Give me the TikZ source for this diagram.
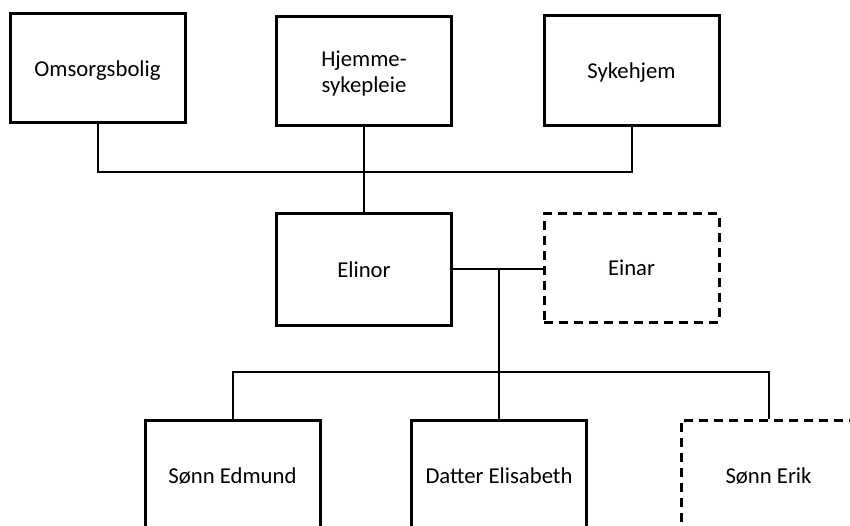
\documentclass[tikz,border=0pt]{standalone}
\usepackage{fontspec}
\setmainfont{Carlito}
\begin{document}
\begin{tikzpicture}[x=1pt,y=-1pt,
  box/.style={draw, line width=3pt, minimum width=175pt, inner sep=0pt,
    text depth=0pt, align=center, font=\fontsize{22.7}{26.5}\selectfont},
  dbox/.style={box, dash pattern=on 9pt off 6pt},
  link/.style={line width=2pt, line join=miter}]
\useasboundingbox (0,0) rectangle (850,526);
\clip (0,0) rectangle (850,526);
\node[box, minimum height=109pt] (oms) at (97.5,68.5) {Omsorgsbolig};
\node[box, minimum height=109pt, text depth=-6pt] (hje) at (364,71.5) {Hjemme-\\sykepleie};
\node[box, minimum height=110pt] (syk) at (631.5,71) {Sykehjem};
\node[box, minimum height=111pt] (eli) at (364,269.5) {Elinor};
\node[dbox, minimum height=108pt] (ein) at (631.5,268) {Einar};
\node[box, minimum height=112pt] (edm) at (232.5,476) {Sønn Edmund};
\node[box, minimum height=112pt] (dat) at (499,476) {Datter Elisabeth};
\node[dbox, minimum height=112pt] (eri) at (768.5,476) {Sønn Erik};
\coordinate (topbus) at (0,172);
\coordinate (kidbus) at (0,372);
\draw[link] (oms.south) -- (oms.south |- topbus) -- (syk.south |- topbus) -- (syk.south);
\draw[link] (hje.south) -- (eli.north);
\draw[link] (eli.east) -- (eli.east -| ein.west);
\coordinate (m) at (dat.north |- eli.east);
\draw[link] (m) -- (dat.north);
\draw[link] (edm.north) -- (edm.north |- kidbus) -- (eri.north |- kidbus) -- (eri.north);
\end{tikzpicture}
\end{document}
